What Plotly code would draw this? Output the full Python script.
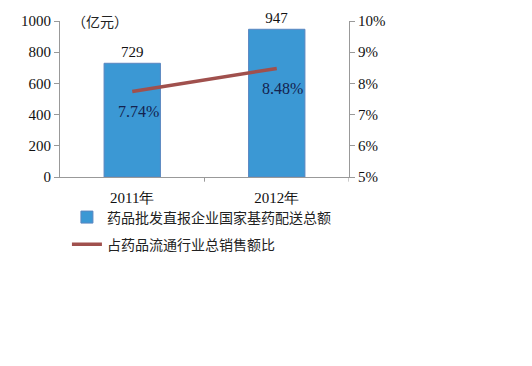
import plotly.graph_objects as go

years = ["2011年", "2012年"]
amounts = [729, 947]
ratios = [7.74, 8.48]
amount_labels = ["729", "947"]
ratio_labels = ["7.74%", "8.48%"]
left_ticks = [0, 200, 400, 600, 800, 1000]
right_ticks = [5, 6, 7, 8, 9, 10]
right_tick_text = ["5%", "6%", "7%", "8%", "9%", "10%"]

serif = "Liberation Serif, Times New Roman, serif"
cjk = "Noto Sans CJK SC, sans-serif"

fig = go.Figure()
fig.add_trace(go.Bar(
    x=[0, 1], y=amounts, name="药品批发直报企业国家基药配送总额",
    legendgroup="a",
    marker=dict(color="#3b98d4", line=dict(color="#5a86c0", width=1)),
    width=0.39, text=amount_labels, textposition="outside",
    textfont=dict(family=serif, size=15, color="#111"),
    cliponaxis=False,
))
fig.add_trace(go.Scatter(
    x=[0, 1], y=ratios, name="占药品流通行业总销售额比", yaxis="y2",
    legendgroup="b",
    mode="lines", line=dict(color="#a0504d", width=3.5),
    cliponaxis=False,
))

for xv, yv, lab in zip([0, 1], ratios, ratio_labels):
    fig.add_annotation(x=xv, y=yv, xref="x", yref="y2", text=lab, showarrow=False,
                       xshift=6, yshift=-20,
                       font=dict(family=serif, size=16, color="#14224e"))

fig.update_layout(
    width=532, height=366,
    margin=dict(l=52, r=191, t=13, b=197, autoexpand=False),
    paper_bgcolor="white", plot_bgcolor="white",
    showlegend=True, bargap=0.6,
    font=dict(family=serif, size=15, color="#111"),
    xaxis=dict(
        range=[-0.5, 1.5], tickvals=[0, 1], ticktext=years,
        showline=True, linecolor="#999", ticks="", showgrid=False,
        tickfont=dict(family=serif, size=15), ticklabelstandoff=7,
    ),
    yaxis=dict(
        range=[0, 1000], tickvals=left_ticks, showline=True, linecolor="#999",
        ticks="outside", ticklen=5, tickcolor="#999", showgrid=False, zeroline=False,
        tickfont=dict(family=serif, size=15),
    ),
    yaxis2=dict(
        range=[5, 10], tickvals=right_ticks, ticktext=right_tick_text,
        overlaying="y", side="right", showline=True, linecolor="#999",
        ticks="outside", ticklen=5, tickcolor="#999", showgrid=False, zeroline=False,
        tickfont=dict(family=serif, size=15),
    ),
    legend=dict(
        x=0.024, y=-0.157, xanchor="left", yanchor="top",
        font=dict(family=cjk, size=14, color="#222"),
        tracegroupgap=6, itemwidth=30, bgcolor="rgba(0,0,0,0)",
    ),
)

for xv in [0.5, 1.5]:
    fig.add_shape(type="line", xref="x", yref="paper", x0=xv, x1=xv, y0=0, y1=-0.03,
                  line=dict(color="#999", width=1))

fig.add_annotation(text="（亿元）", xref="paper", yref="paper", x=0.035, y=1.0,
                   xanchor="left", yanchor="middle", showarrow=False,
                   font=dict(family=cjk, size=14, color="#222"))

fig.write_html("out.html")
